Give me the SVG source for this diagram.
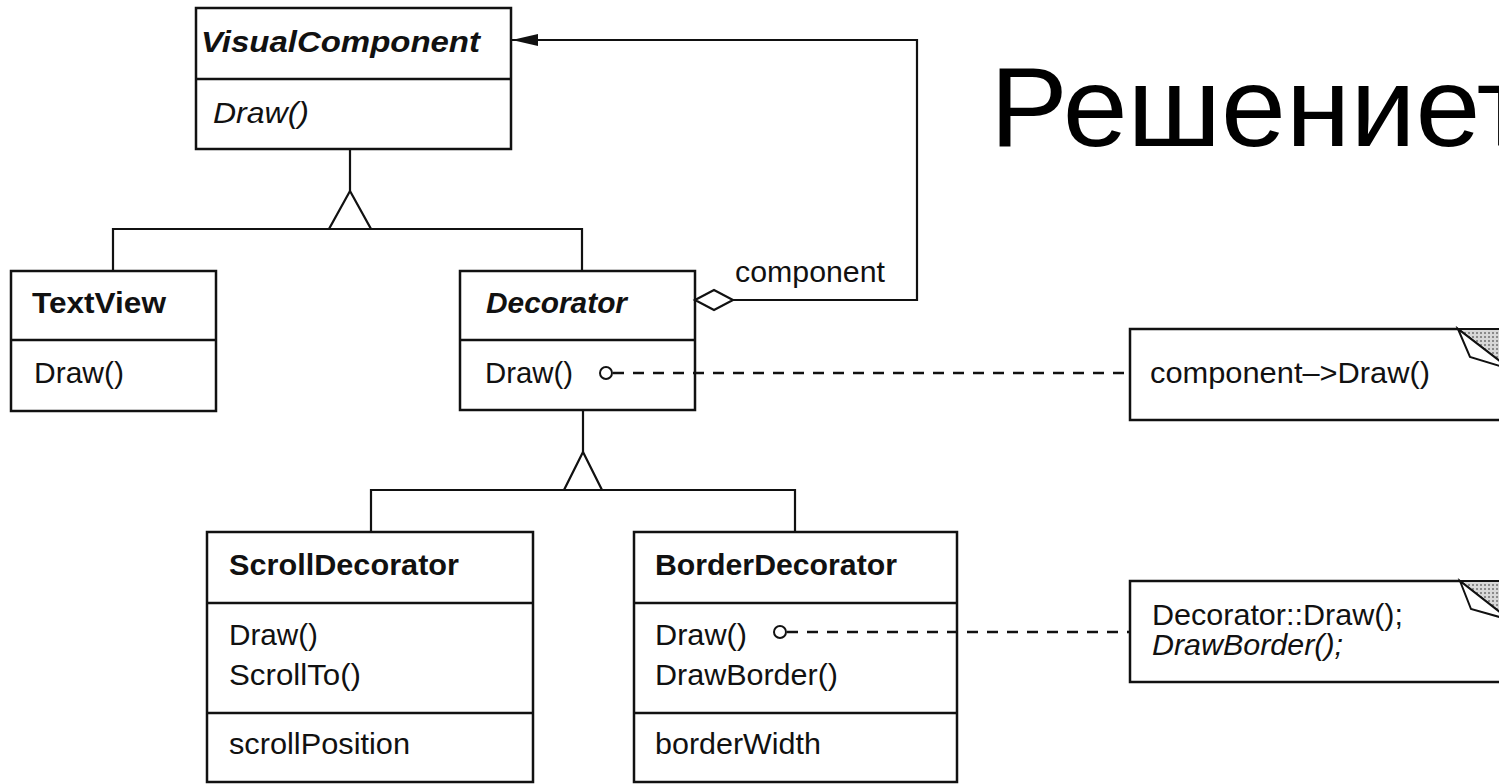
<svg xmlns="http://www.w3.org/2000/svg" width="1499" height="784" viewBox="0 0 1499 784">
  <style>
    .box { fill: #fff; stroke: #111; stroke-width: 2.5; }
    .sep { fill: none; stroke: #111; stroke-width: 2.5; }
    .ln { fill: none; stroke: #111; stroke-width: 2.2; }
    .tri { fill: #fff; stroke: #111; stroke-width: 2.2; stroke-linejoin: miter; }
    .dash { fill: none; stroke: #111; stroke-width: 2.5; stroke-dasharray: 11 9; }
    .dot { fill: #fff; stroke: #111; stroke-width: 2; }
    .fold { fill: url(#shade); stroke: #111; stroke-width: 2; }
    .flap { fill: #fff; stroke: #111; stroke-width: 2; }
    text { font-family: "Liberation Sans", Arial, Helvetica, sans-serif; font-size: 29px; fill: #111; }
    .b { font-weight: bold; }
    .i { font-style: italic; }
    .title { font-size: 114px; fill: #000; }
  </style>
  <defs>
    <pattern id="shade" width="4" height="4" patternUnits="userSpaceOnUse">
      <rect width="4" height="4" fill="#d8d8d8"/>
      <rect width="2" height="2" fill="#8a8a8a"/>
    </pattern>
    <marker id="filled" markerUnits="userSpaceOnUse" markerWidth="26" markerHeight="12" refX="26" refY="6" orient="auto">
      <path d="M0,0 L26,6 L0,12 z" fill="#111"/>
    </marker>
  </defs>

  <text class="title" x="990" y="146" textLength="540" lengthAdjust="spacingAndGlyphs">Решениет</text>

  <g id="VisualComponent">
    <rect class="box" x="196" y="8" width="315" height="141"/>
    <path class="sep" d="M196,79 H511"/>
    <text class="b i" x="201" y="52" textLength="279" lengthAdjust="spacingAndGlyphs">VisualComponent</text>
    <text class="i" x="213" y="123" textLength="96" lengthAdjust="spacingAndGlyphs">Draw()</text>
  </g>

  <g id="TextView">
    <rect class="box" x="11" y="271" width="205" height="140"/>
    <path class="sep" d="M11,340 H216"/>
    <text class="b" x="32" y="313" textLength="134" lengthAdjust="spacingAndGlyphs">TextView</text>
    <text x="34" y="383" textLength="90" lengthAdjust="spacingAndGlyphs">Draw()</text>
  </g>

  <g id="Decorator">
    <rect class="box" x="460" y="271" width="235" height="139"/>
    <path class="sep" d="M460,340 H695"/>
    <text class="b i" x="486" y="313" textLength="141" lengthAdjust="spacingAndGlyphs">Decorator</text>
    <text x="485" y="383" textLength="88" lengthAdjust="spacingAndGlyphs">Draw()</text>
  </g>

  <g id="ScrollDecorator">
    <rect class="box" x="207" y="532" width="326" height="250"/>
    <path class="sep" d="M207,603 H533 M207,713 H533"/>
    <text class="b" x="229" y="575" textLength="230" lengthAdjust="spacingAndGlyphs">ScrollDecorator</text>
    <text x="229" y="645" textLength="89" lengthAdjust="spacingAndGlyphs">Draw()</text>
    <text x="229" y="685" textLength="132" lengthAdjust="spacingAndGlyphs">ScrollTo()</text>
    <text x="229" y="754" textLength="181" lengthAdjust="spacingAndGlyphs">scrollPosition</text>
  </g>

  <g id="BorderDecorator">
    <rect class="box" x="634" y="532" width="323" height="250"/>
    <path class="sep" d="M634,603 H957 M634,713 H957"/>
    <text class="b" x="655" y="575" textLength="242" lengthAdjust="spacingAndGlyphs">BorderDecorator</text>
    <text x="655" y="645" textLength="92" lengthAdjust="spacingAndGlyphs">Draw()</text>
    <text x="655" y="685" textLength="183" lengthAdjust="spacingAndGlyphs">DrawBorder()</text>
    <text x="655" y="754" textLength="166" lengthAdjust="spacingAndGlyphs">borderWidth</text>
  </g>

  <g id="note-decorator-draw">
    <path class="box" d="M1458,329 H1130 V420 H1510"/>
    <polygon class="fold" points="1458,329 1510,329 1510,369"/>
    <polygon class="flap" points="1458,329 1470,357 1510,369"/>
    <text x="1150" y="383" textLength="280" lengthAdjust="spacingAndGlyphs">component–&gt;Draw()</text>
  </g>

  <g id="note-border-draw">
    <path class="box" d="M1460,581 H1130 V682 H1510"/>
    <polygon class="fold" points="1460,581 1510,581 1510,620"/>
    <polygon class="flap" points="1460,581 1471,609 1510,620"/>
    <text x="1152" y="625" textLength="251" lengthAdjust="spacingAndGlyphs">Decorator::Draw();</text>
    <text class="i" x="1152" y="655" textLength="191" lengthAdjust="spacingAndGlyphs">DrawBorder();</text>
  </g>

  <g id="connectors">
    <!-- VisualComponent generalization -->
    <path class="ln" d="M350,149 V191"/>
    <polygon class="tri" points="350,191 329,229 371,229"/>
    <path class="ln" d="M113,271 V229 H582 V271"/>
    <!-- Decorator generalization -->
    <path class="ln" d="M583,410 V452"/>
    <polygon class="tri" points="583,452 564,490 602,490"/>
    <path class="ln" d="M371,532 V490 H795 V532"/>
    <!-- component aggregation -->
    <path class="ln" d="M733,300 H917 V40 H512" marker-end="url(#filled)"/>
    <polygon class="tri" points="695,300 714,290 733,300 714,310"/>
    <text x="735" y="282" textLength="150" lengthAdjust="spacingAndGlyphs">component</text>
    <!-- implementation notes -->
    <path class="dash" d="M613,373 H1130"/>
    <circle class="dot" cx="606" cy="373" r="6"/>
    <path class="dash" d="M787,632 H1130"/>
    <circle class="dot" cx="780" cy="632" r="6"/>
  </g>
</svg>
